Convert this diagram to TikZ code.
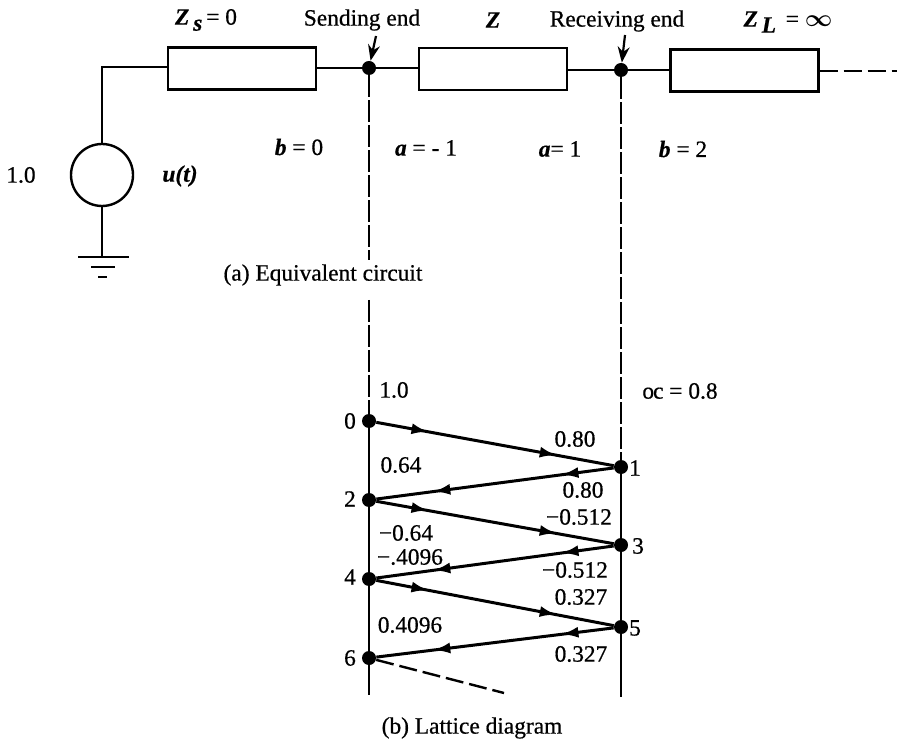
\documentclass[tikz,border=0pt]{standalone}
\usepackage{fontspec}
\usepackage{amsmath,amssymb}
\setmainfont{Liberation Serif}
\newfontfamily\scanfont{Liberation Serif}[FakeBold=0.6]
\usepackage{tikz}
\usetikzlibrary{decorations.markings,arrows.meta}

\tikzset{
  wire/.style={line width=1.2pt},
  zbox/.style={draw, line width=1.2pt, minimum width=74pt, minimum height=21pt, inner sep=0pt},
  junction/.style={circle, fill=black, minimum size=7pt, inner sep=0pt},
  longdash/.style={line width=1.2pt, dash pattern=on 11pt off 1.5pt},
  stubdash/.style={line width=1.2pt, dash pattern=on 9pt off 3pt},
  lab/.style={font=\fontsize{11.7}{13}\scanfont, inner sep=0pt},
  wave/.style={line width=1.5pt, postaction={decorate}, decoration={markings,
    mark=at position 0.22 with {\arrow{Latex[length=8.5pt,width=5.5pt]}},
    mark=at position 0.76 with {\arrow{Latex[length=8.5pt,width=5.5pt]}}}},
}

\begin{document}
\begin{tikzpicture}[x=0.5pt, y=-0.5pt, >=Stealth]
  \useasboundingbox (0,0) rectangle (903,742);
  % equivalent circuit
  \node[zbox] (zs) at (242,68.5) {};
  \node[zbox] (zline) at (493,69) {};
  \node[zbox] (zl) at (744.5,70.5) {};
  \node[junction] (send) at (369,68) {};
  \node[junction] (recv) at (621,70) {};
  \node[circle, draw, line width=1.2pt, minimum size=31pt, inner sep=0pt] (src) at (102,175) {};
  \coordinate (corner) at (102,67);
  \coordinate (gnd) at (102,257);
  \coordinate (g1a) at (78,257);
  \coordinate (g1b) at (129,257);
  \coordinate (g2a) at (91,267);
  \coordinate (g2b) at (115,267);
  \coordinate (g3a) at (98,277);
  \coordinate (g3b) at (107,277);
  \coordinate (stub) at (897,71);
  \draw[wire] (src.north) -- (corner) -- (zs.west |- corner);
  \draw[wire] (src.south) -- (gnd);
  \draw[wire] (g1a) -- (g1b);
  \draw[wire] (g2a) -- (g2b);
  \draw[wire] (g3a) -- (g3b);
  \draw[wire] (zs.east |- send) -- (send) -- (zline.west |- send);
  \draw[wire] (zline.east |- recv) -- (recv) -- (zl.west |- recv);
  \draw[stubdash] (zl.east |- stub) -- (stub);
  \node[lab] (zslab) at (206,20) {\textbf{\textit{Z}}\,\raisebox{-3pt}{\textbf{\textit{s}}}\,= 0};
  \node[lab] (sendlab) at (362,20) {Sending end};
  \node[lab] (zlab) at (493,20) {\textbf{\textit{Z}}};
  \node[lab] (recvlab) at (617,21) {Receiving end};
  \node[lab] (zllab) at (788,22) {\textbf{\textit{Z}}\,\raisebox{-3pt}{\textbf{\textit{L}}}\, = $\boldsymbol{\infty}$};
  \coordinate (sendtail) at (376,36);
  \coordinate (recvtail) at (625,35);
  \draw[->, line width=1.1pt] (sendtail) -- (send);
  \draw[->, line width=1.1pt] (recvtail) -- (recv);
  \node[lab] (b0) at (299,147) {\textbf{\textit{b}} = 0};
  \node[lab] (am1) at (426,148) {\textbf{\textit{a}} = - 1};
  \node[lab] (a1) at (560,149) {\textbf{\textit{a}}= 1};
  \node[lab] (b2) at (683,149) {\textbf{\textit{b}} = 2};
  \node[lab] (volt) at (21,175) {1.0};
  \node[lab] (ut) at (180,176) {\textbf{\textit{u(t)}}};
  \node[lab] (captiona) at (323,275) {(a) Equivalent circuit};
  % lattice diagram
  \node[junction] (n0) at (369,421) {};
  \node[junction] (n1) at (621,467) {};
  \node[junction] (n2) at (369,500) {};
  \node[junction] (n3) at (621,545) {};
  \node[junction] (n4) at (369,579) {};
  \node[junction] (n5) at (621,627) {};
  \node[junction] (n6) at (369,658) {};
  \coordinate (sendgap) at (369,260);
  \coordinate (sendtop) at (369,300);
  \coordinate (sendbot) at (369,695);
  \coordinate (recvbot) at (621,697);
  \coordinate (wavend) at (504,693);
  \draw[longdash] (send) -- (sendgap);
  \draw[longdash] (sendtop) -- (n0);
  \draw[longdash] (recv) -- (n1);
  \draw[wire] (n0) -- (sendbot);
  \draw[wire] (n1) -- (recvbot);
  \draw[wave] (n0) -- (n1);
  \draw[wave] (n1) -- (n2);
  \draw[wave] (n2) -- (n3);
  \draw[wave] (n3) -- (n4);
  \draw[wave] (n4) -- (n5);
  \draw[wave] (n5) -- (n6);
  \draw[stubdash] (n6) -- (wavend);
  \foreach \name/\txt/\xpos/\ypos in {l0/0/350/421, l1/1/635/468, l2/2/350/499, l3/3/638/546,
      l4/4/350/577, l5/5/635/628, l6/6/350/658,
      v0/1.0/394/390, v1/0.80/575/439, v2/0.64/401/465, v3/0.80/583/490,
      v4/{\textminus}0.512/579/517, v5/{\textminus}0.64/406/533, v6/{\textminus}.4096/410/557,
      v7/{\textminus}0.512/575/570, v8/0.327/581/597, v9/0.4096/410/625, v10/0.327/581/654}
    \node[lab] (\name) at (\xpos,\ypos) {\txt};
  \node[lab] (alpha) at (680,391) {o\kern-0.5pt c = 0.8};
  \node[lab] (captionb) at (472,728) {(b) Lattice diagram};
\end{tikzpicture}
\end{document}
